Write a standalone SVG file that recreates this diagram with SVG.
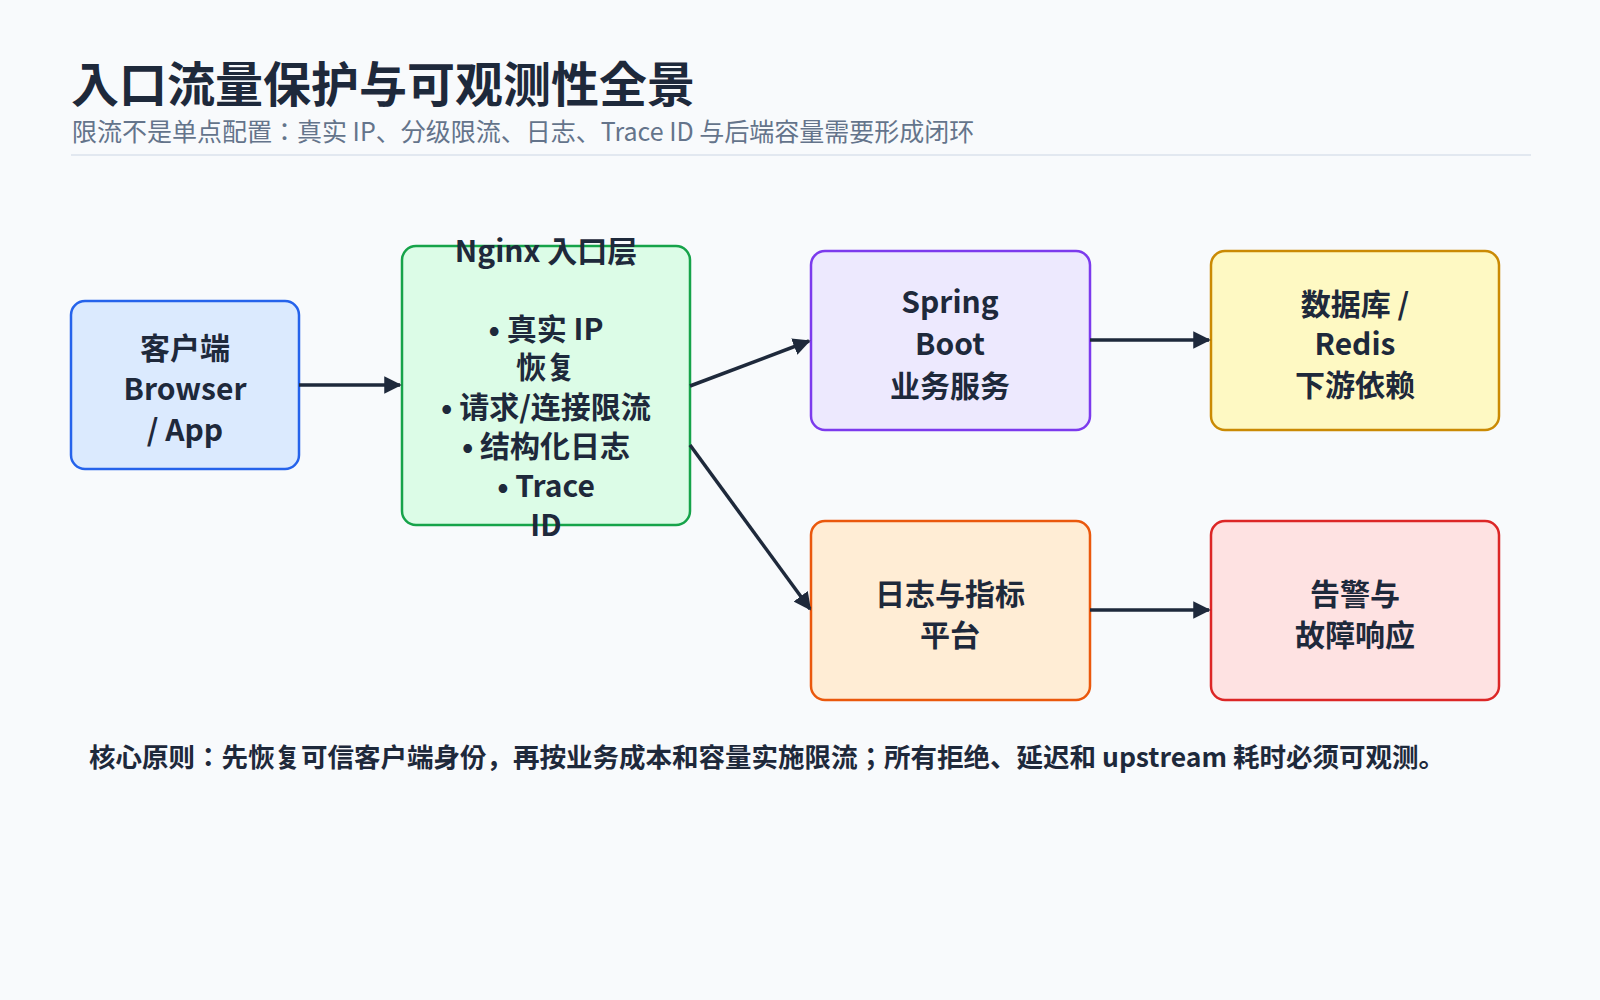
<svg xmlns="http://www.w3.org/2000/svg" width="1600" height="1000" viewBox="0 0 1600 1000">
<style>
text{font-family:"Noto Sans CJK JP","Noto Sans",sans-serif;fill:#1e293b}
.n{font-size:30px;font-weight:bold;text-anchor:middle}
.b{stroke-width:2.5}
.c{stroke:#1e293b;stroke-width:3.5;fill:none;marker-end:url(#a)}
</style>
<defs><marker id="a" viewBox="0 0 10 10" refX="9" refY="5" markerWidth="5" markerHeight="5" orient="auto"><path d="M0,0L10,5L0,10z" fill="#1e293b"/></marker></defs>
<rect width="1600" height="1000" fill="#f8fafc"/>
<text x="71" y="102" font-size="48" font-weight="bold">入口流量保护与可观测性全景</text>
<text x="72" y="141" font-size="25" style="fill:#64748b">限流不是单点配置：真实 IP、分级限流、日志、Trace ID 与后端容量需要形成闭环</text>
<rect x="71" y="154" width="1460" height="2" fill="#e2e8f0"/>
<g id="client"><rect class="b" x="71" y="301" width="228" height="168" rx="14" fill="#dbeafe" stroke="#2563eb"/>
<text class="n" x="185" y="359">客户端</text><text class="n" x="185" y="400">Browser</text><text class="n" x="185" y="441">/ App</text></g>
<g id="nginx"><rect class="b" x="402" y="246" width="288" height="279" rx="14" fill="#dcfce7" stroke="#16a34a"/>
<text class="n" x="546" y="262">Nginx 入口层</text><text class="n" x="546" y="340">• 真实 IP</text><text class="n" x="546" y="378">恢复</text><text class="n" x="546" y="418">• 请求/连接限流</text><text class="n" x="546" y="457">• 结构化日志</text><text class="n" x="546" y="497">• Trace</text><text class="n" x="546" y="536">ID</text></g>
<g id="spring"><rect class="b" x="811" y="251" width="279" height="179" rx="14" fill="#ede9fe" stroke="#7c3aed"/>
<text class="n" x="950" y="313">Spring</text><text class="n" x="950" y="355">Boot</text><text class="n" x="950" y="397">业务服务</text></g>
<g id="db"><rect class="b" x="1211" y="251" width="288" height="179" rx="14" fill="#fef9c3" stroke="#ca8a04"/>
<text class="n" x="1355" y="315">数据库 /</text><text class="n" x="1355" y="355">Redis</text><text class="n" x="1355" y="396">下游依赖</text></g>
<g id="log"><rect class="b" x="811" y="521" width="279" height="179" rx="14" fill="#ffedd5" stroke="#ea580c"/>
<text class="n" x="950" y="605">日志与指标</text><text class="n" x="950" y="646">平台</text></g>
<g id="alert"><rect class="b" x="1211" y="521" width="288" height="179" rx="14" fill="#fee2e2" stroke="#dc2626"/>
<text class="n" x="1355" y="605">告警与</text><text class="n" x="1355" y="646">故障响应</text></g>
<g id="connectors">
<line class="c" x1="299" y1="385" x2="400" y2="385"/>
<line class="c" x1="690" y1="386" x2="809" y2="341"/>
<line class="c" x1="690" y1="445" x2="810" y2="609"/>
<line class="c" x1="1090" y1="340" x2="1209" y2="340"/>
<line class="c" x1="1090" y1="610" x2="1209" y2="610"/>
</g>
<text x="89" y="767" font-size="26.5" font-weight="bold">核心原则：先恢复可信客户端身份，再按业务成本和容量实施限流；所有拒绝、延迟和 upstream 耗时必须可观测。</text>
</svg>
